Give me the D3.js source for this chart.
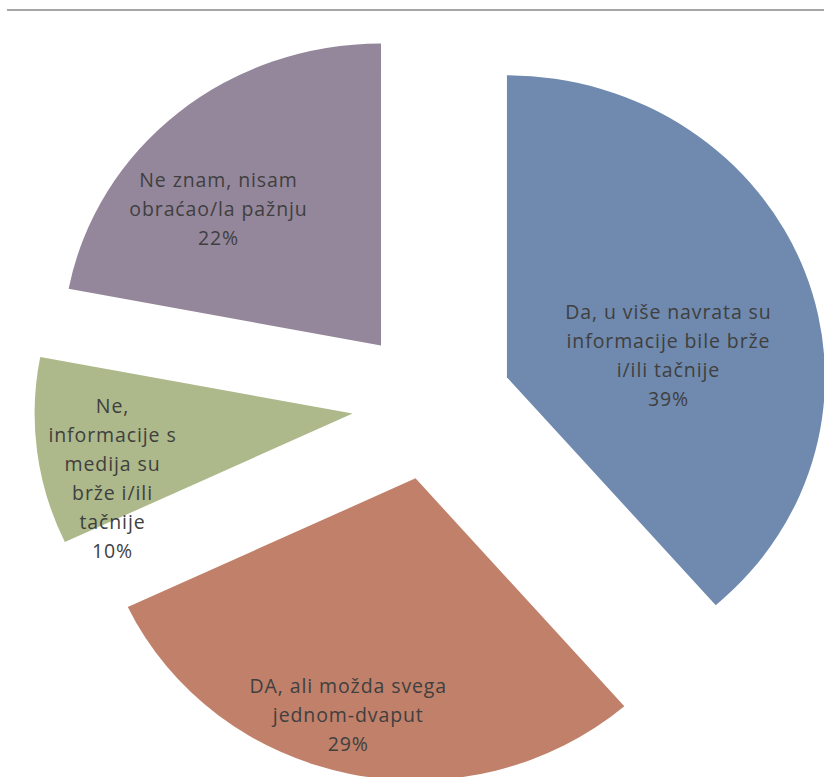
<!DOCTYPE html>
<html>
<head>
<meta charset="utf-8">
<script src="https://cdn.jsdelivr.net/npm/d3@7/dist/d3.min.js"></script>
<style>
  body { margin: 0; background: #fff; overflow: hidden; }
  svg { display: block; }
</style>
</head>
<body>
<script>
  const width = 824;
  const height = 777;

  // slice order: clockwise from 12 o'clock
  const categories = [
    ["Da, u više navrata su", "informacije bile brže", "i/ili tačnije"],
    ["DA, ali možda svega", "jednom-dvaput"],
    ["Ne,", "informacije s", "medija su", "brže i/ili", "tačnije"],
    ["Ne znam, nisam", "obraćao/la pažnju"]
  ];
  const values = [0.386, 0.294, 0.10, 0.22];
  const colors = ["#6f8aae", "#c0806a", "#adb98a", "#95879b"];
  // label block shift from the default anchor (x, y)
  const labelNudge = [[-17, 42], [-28, 60], [-51, 42], [-41, 3]];

  const cx = 432;
  const cy = 404;
  const radius = 302;
  const stretchX = 1.053;   // the picture is slightly wider than tall
  const explode = 76;
  const labelR = explode + 181;
  const lineHeight = 29;

  const svg = d3.select("body")
    .append("svg")
    .attr("width", width)
    .attr("height", height)
    .attr("viewBox", [0, 0, width, height]);

  svg.append("line")
    .attr("x1", 7)
    .attr("x2", width)
    .attr("y1", 10)
    .attr("y2", 10)
    .attr("stroke", "#a6a6a6")
    .attr("stroke-width", 2);

  const pie = d3.pie().sort(null).value(d => d);
  const arcs = pie(values);
  const arc = d3.arc().innerRadius(0).outerRadius(radius);
  const mid = d => (d.startAngle + d.endAngle) / 2;

  const g = svg.append("g")
    .attr("transform", `translate(${cx},${cy}) scale(${stretchX},1)`);

  g.selectAll("path")
    .data(arcs)
    .join("path")
    .attr("transform", d => `translate(${explode * Math.sin(mid(d))},${-explode * Math.cos(mid(d))})`)
    .attr("d", arc)
    .attr("fill", (d, i) => colors[i]);

  const fmt = d3.format(".0%");

  const labels = svg.append("g")
    .attr("font-family", "'Open Sans', Lato, sans-serif")
    .attr("font-size", 19.5)
    .attr("letter-spacing", 0.9)
    .attr("fill", "#3f3f3f")
    .attr("text-anchor", "middle")
    .selectAll("text")
    .data(arcs)
    .join("text")
    .attr("transform", (d, i) => {
      const x = cx + stretchX * labelR * Math.sin(mid(d)) + labelNudge[i][0];
      const y = cy - labelR * Math.cos(mid(d)) + labelNudge[i][1];
      return `translate(${x},${y})`;
    });

  labels.each(function(d, i) {
    const lines = categories[i].concat([fmt(d.data)]);
    const top = -(lines.length - 1) / 2 * lineHeight;
    d3.select(this).selectAll("tspan")
      .data(lines)
      .join("tspan")
      .attr("x", 0)
      .attr("y", (t, j) => top + j * lineHeight)
      .attr("dy", "0.35em")
      .text(t => t);
  });
</script>
</body>
</html>
